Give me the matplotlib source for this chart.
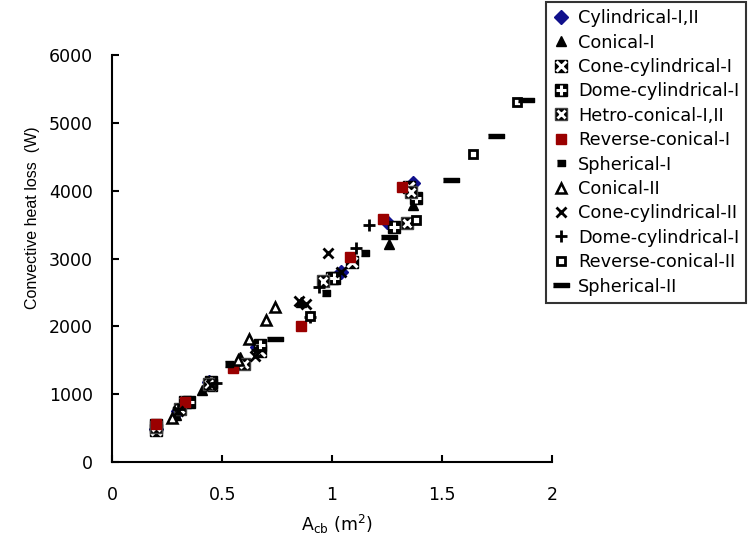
import matplotlib
matplotlib.use("Agg")
import matplotlib.pyplot as plt
from matplotlib.legend_handler import HandlerTuple

plt.rcParams['font.family'] = ['DejaVu Sans']

# data (A_cb in m2, heat loss in W)
cyl_x = [0.2, 0.3, 0.44, 0.66, 1.04, 1.25, 1.37]
cyl_y = [490, 750, 1180, 1700, 2800, 3540, 4110]

con1_x = [0.2, 0.29, 0.41, 0.58, 0.86, 1.26, 1.37]
con1_y = [480, 700, 1060, 1550, 2360, 3210, 3790]

ccyl1_x = [0.2, 0.33, 0.45, 0.67, 1.0, 1.09, 1.35]
ccyl1_y = [470, 880, 1130, 1640, 2720, 2950, 4060]

dcyl1_x = [0.2, 0.35, 0.45, 0.67, 1.01, 1.28, 1.38]
dcyl1_y = [540, 885, 1180, 1725, 2710, 3460, 3890]

het_x = [0.2, 0.31, 0.44, 0.6, 0.96, 1.34, 1.36]
het_y = [510, 780, 1150, 1445, 2670, 3520, 3980]

rev1_x = [0.2, 0.33, 0.55, 0.86, 1.08, 1.23, 1.32]
rev1_y = [560, 880, 1390, 2000, 3020, 3580, 4050]

sph1_x = [0.53, 0.97, 1.15]
sph1_y = [1440, 2500, 3080]

con2_x = [0.27, 0.57, 0.62, 0.70, 0.74]
con2_y = [650, 1500, 1810, 2090, 2290]

ccyl2_x = [0.3, 0.45, 0.65, 0.85, 0.88, 0.98, 1.04]
ccyl2_y = [760, 1140, 1570, 2370, 2330, 3080, 2800]

dcyl2_x = [0.3, 0.47, 0.66, 0.90, 0.94, 1.11, 1.17]
dcyl2_y = [780, 1170, 1650, 2140, 2580, 3150, 3490]

rev2_x = [0.9, 1.38, 1.64, 1.84]
rev2_y = [2150, 3570, 4550, 5310]

sph2_x = [0.74, 1.26, 1.54, 1.745, 1.88]
sph2_y = [1810, 3320, 4160, 4810, 5340]

labels = ["Cylindrical-I,II", "Conical-I", "Cone-cylindrical-I",
          "Dome-cylindrical-I", "Hetro-conical-I,II", "Reverse-conical-I",
          "Spherical-I", "Conical-II", "Cone-cylindrical-II",
          "Dome-cylindrical-I", "Reverse-conical-II", "Spherical-II"]

small_dash = [(-1, -0.7), (1, -0.7), (1, 0.7), (-1, 0.7)]
long_dash = [(-1, -0.3), (1, -0.3), (1, 0.3), (-1, 0.3)]

fig = plt.figure(figsize=(7.48, 5.36), dpi=100)
ax = fig.add_axes([0.150, 0.138, 0.588, 0.759])

h = []
h.append(ax.plot(cyl_x, cyl_y, 'D', color='#10108c', ms=7, ls='none')[0])
h.append(ax.plot(con1_x, con1_y, '^', color='black', ms=7, ls='none')[0])
a = ax.plot(ccyl1_x, ccyl1_y, 's', color='black', ms=9, ls='none')[0]
b = ax.plot(ccyl1_x, ccyl1_y, 'x', color='white', ms=6.5, mew=2.2, ls='none')[0]
h.append((a, b))
a = ax.plot(dcyl1_x, dcyl1_y, 's', color='black', ms=9, ls='none')[0]
b = ax.plot(dcyl1_x, dcyl1_y, '+', color='white', ms=7, mew=2.2, ls='none')[0]
h.append((a, b))
a = ax.plot(het_x, het_y, 's', color='black', mec='#444444', ms=9, ls='none')[0]
b = ax.plot(het_x, het_y, 'x', color='white', ms=6, mew=2, ls='none')[0]
h.append((a, b))
h.append(ax.plot(rev1_x, rev1_y, 's', color='#9a0000', ms=7, ls='none')[0])
h.append(ax.plot(sph1_x, sph1_y, marker=small_dash, color='black', ms=6, ls='none')[0])
h.append(ax.plot(con2_x, con2_y, '^', mfc='white', mec='black', mew=1.8, ms=7, ls='none')[0])
h.append(ax.plot(ccyl2_x, ccyl2_y, 'x', color='black', ms=7, mew=2, ls='none')[0])
h.append(ax.plot(dcyl2_x, dcyl2_y, '+', color='black', ms=8, mew=2, ls='none')[0])
h.append(ax.plot(rev2_x, rev2_y, 's', mfc='white', mec='black', mew=2, ms=6, ls='none')[0])
h.append(ax.plot(sph2_x, sph2_y, marker=long_dash, color='black', ms=11, ls='none')[0])

ax.set_xlim(0, 2)
ax.set_ylim(0, 6000)
ax.set_xticks([0, 0.5, 1, 1.5, 2])
ax.set_xticklabels(['0', '0.5', '1', '1.5', '2'])
ax.set_yticks(range(0, 6001, 1000))
ax.spines['top'].set_visible(False)
ax.spines['right'].set_visible(False)
for s in ['left', 'bottom']:
    ax.spines[s].set_linewidth(1.5)
ax.tick_params(direction='in', length=5, width=1.5, labelsize=12.5)
ax.tick_params(axis='y', pad=14)
ax.tick_params(axis='x', pad=17)

ax.set_xlabel(r'A$_{\mathregular{cb}}$ (m$^{\mathregular{2}}$)', fontsize=12.5)
ax.xaxis.set_label_coords(0.51, -0.125)
ax.set_ylabel('Convective heat loss  (W)', fontsize=11.5, family='Liberation Sans')
ax.yaxis.set_label_coords(-0.165, 0.60)

leg = fig.legend(h, labels, loc='upper left', bbox_to_anchor=(546 / 748, 1 - 2 / 536),
                 borderaxespad=0, frameon=True, fancybox=False, fontsize=12.8,
                 handlelength=0.9, handletextpad=0.5, labelspacing=0.36,
                 borderpad=0.4,
                 handler_map={tuple: HandlerTuple(ndivide=1, pad=0)})
leg.get_frame().set_edgecolor('black')
leg.get_frame().set_linewidth(1.5)

fig.savefig('out.png', dpi=100)
